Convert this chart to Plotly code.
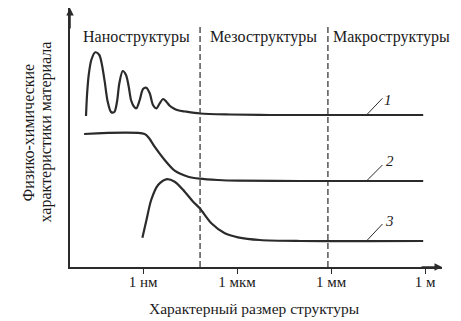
import plotly.graph_objects as go

# x: log10 of structure size in metres; y: arbitrary units
curve1_x = [-10.819, -10.787, -10.733, -10.650, -10.522, -10.395, -10.309, -10.222, -10.127, -10.021,
            -9.916, -9.830, -9.756, -9.648, -9.543, -9.456, -9.383, -9.303, -9.214, -9.105,
            -9.000, -8.895, -8.786, -8.681, -8.575, -8.467, -8.362, -8.256, -8.148, -7.988,
            -7.883, -7.66, -7.18, -6.22, -4.95, -0.06]
curve1_y = [151, 172, 192, 207, 214.7, 212, 202, 185.3, 165.3, 155,
            155, 165.3, 183.7, 196, 192, 180.3, 167, 161, 158.7, 167,
            178, 179.3, 173.7, 162, 158.7, 163.7, 168, 165.3, 161.3, 158,
            156.7, 155.5, 153.5, 152.5, 152, 152]

curve2_x = [-10.88, -8.95, -8.81, -8.63, -8.31, -7.99, -7.56, -7.19, -6.61, -5.97, -3.99, -0.06]
curve2_y = [133, 133, 129, 120.3, 107, 96.3, 90.3, 88.3, 87, 86.3, 86, 86]

curve3_x = [-9.02, -8.89, -8.74, -8.52, -8.26, -7.99, -7.67, -7.40, -7.19, -6.82, -6.39, -5.97, -5.27, -3.99, -0.06]
curve3_y = [29.3, 47, 67, 82, 87.7, 85.3, 75.3, 65.3, 58.7, 43.7, 33.7, 29.7, 27, 26, 26]

region_bounds = [-7.18, -3.10]
region_names = ["Наноструктуры", "Мезоструктуры", "Макроструктуры"]
region_centers = [-9.22, -5.14, -1.08]

tick_vals = [-9, -6, -3, 0]
tick_text = ["1 нм", "1 мкм", "1 мм", "1 м"]

curve_labels = ["1", "2", "3"]
label_pos = [(-1.19, 167), (-1.12, 106), (-1.14, 46.3)]
leader_start = [(-1.87, 152), (-1.87, 86), (-1.87, 26)]
leader_end = [(-1.36, 168.7), (-1.36, 102), (-1.36, 43)]

y_title_lines = ["Физико-химические", "характеристики материала"]
x_title = "Характерный размер структуры"

X_RANGE = [-11.33, 0.54]
Y_RANGE = [0, 259]
LINE = "#2b2b2b"
TXT = "#1a1a1a"
FONT = "Liberation Serif"

fig = go.Figure()
for xs, ys in [(curve1_x, curve1_y), (curve2_x, curve2_y), (curve3_x, curve3_y)]:
    fig.add_trace(go.Scatter(x=xs, y=ys, mode="lines",
                             line=dict(color=LINE, width=2.2, shape="spline", smoothing=0.8),
                             hoverinfo="skip", showlegend=False))

for xb in region_bounds:
    fig.add_trace(go.Scatter(x=[xb, xb], y=[0, 242], mode="lines",
                             line=dict(color=LINE, width=1.2, dash="6px,3px"),
                             hoverinfo="skip", showlegend=False))

for (x0, y0), (x1, y1) in zip(leader_start, leader_end):
    fig.add_trace(go.Scatter(x=[x0, x1], y=[y0, y1], mode="lines",
                             line=dict(color=LINE, width=1),
                             hoverinfo="skip", showlegend=False))

annotations = []
for name, xc in zip(region_names, region_centers):
    annotations.append(dict(x=xc, y=230, xref="x", yref="y", text=name, showarrow=False,
                            font=dict(family=FONT, size=16, color=TXT)))
for lab, (lx, ly) in zip(curve_labels, label_pos):
    annotations.append(dict(x=lx, y=ly, xref="x", yref="y", text="<i>" + lab + "</i>", showarrow=False,
                            font=dict(family=FONT, size=15, color=TXT)))
# axis arrowheads
annotations.append(dict(x=0, y=1, xref="paper", yref="paper", ax=0, ay=22,
                        showarrow=True, arrowhead=2, arrowsize=1, arrowwidth=1.5, arrowcolor=LINE, text=""))
annotations.append(dict(x=1, y=0, xref="paper", yref="paper", ax=-22, ay=0,
                        showarrow=True, arrowhead=2, arrowsize=1, arrowwidth=1.5, arrowcolor=LINE, text=""))
# y title (two rotated lines)
for line_text, xs in zip(y_title_lines, [-42, -25]):
    annotations.append(dict(x=0, y=0.5, xref="paper", yref="paper", xanchor="center", yanchor="middle",
                            xshift=xs, yshift=5, text=line_text, textangle=-90,
                            showarrow=False, font=dict(family=FONT, size=16, color=TXT)))
# x title
annotations.append(dict(x=0.5, y=0, xref="paper", yref="paper", xanchor="center", yanchor="middle",
                        xshift=-2, yshift=-41, text=x_title, showarrow=False,
                        font=dict(family=FONT, size=15.5, color=TXT)))

fig.update_layout(
    width=461, height=321,
    margin=dict(l=70, r=19, t=8, b=54),
    paper_bgcolor="white", plot_bgcolor="white",
    annotations=annotations,
    xaxis=dict(range=X_RANGE, tickvals=tick_vals, ticktext=tick_text, showgrid=False, zeroline=False,
               showline=True, linecolor=LINE, linewidth=1.5, ticks="outside", ticklen=5,
               tickcolor=LINE, tickwidth=1.2, ticklabelstandoff=-5,
               tickfont=dict(family=FONT, size=15, color=TXT)),
    yaxis=dict(range=Y_RANGE, showgrid=False, zeroline=False, showticklabels=False,
               showline=True, linecolor=LINE, linewidth=1.5, ticks=""),
)

fig.write_html("out.html")
